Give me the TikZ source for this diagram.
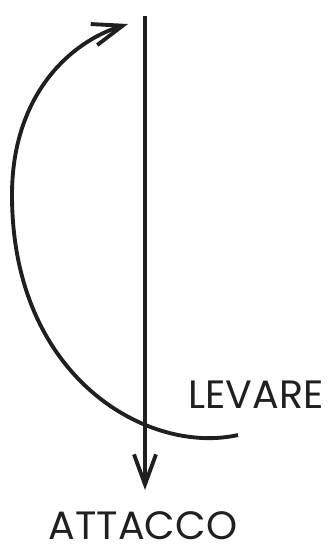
\documentclass[tikz,border=0pt]{standalone}
\usepackage{fontspec}
\newfontfamily\labelfont{Poppins}
\usetikzlibrary{arrows.meta,positioning}

\begin{document}
\begin{tikzpicture}[
  x=0.02cm,y=-0.02cm,
  line width=2.2pt,
  lbl/.style={font=\labelfont\fontsize{22.5}{22.5}\selectfont,inner sep=0pt,
              anchor=base,text=black!88},
  ar/.style={-{Straight Barb[length=6mm,width=4.4mm]},black!88}
]
\useasboundingbox (0,0) rectangle (333,552);
% labels
\node[lbl] (levare) at (256,408) {LEVARE};
\node[lbl] (attacco) at (143,539) {ATTACCO};
% downbeat line
\coordinate (top) at (145,16);
\coordinate (bottom) at (145,490);
\draw[ar] (top) -- (bottom);
% upbeat swing
\coordinate (swing) at (238,435);
\coordinate (left) at (12,195);
\coordinate (peak) at (128,24);
\draw[ar] (swing) .. controls (150,455) and (12,380) .. (left)
  .. controls (12,95) and (70,42) .. (peak);
\end{tikzpicture}
\end{document}
